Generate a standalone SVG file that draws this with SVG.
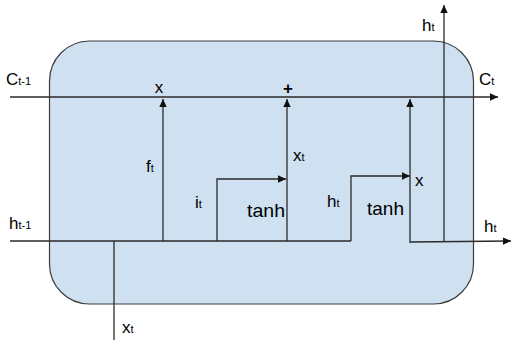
<svg xmlns="http://www.w3.org/2000/svg" width="512" height="342" viewBox="0 0 512 342">
<style>
.ln{fill:none;stroke:#2a2a2a;stroke-width:1.3}
.t{font-family:"Liberation Sans",Arial,sans-serif;fill:#000;font-size:17px}
.s{font-size:11px}
.tn{font-family:"Liberation Sans",Arial,sans-serif;fill:#000;font-size:19px}
</style>
<defs>
<marker id="ah" markerWidth="9" markerHeight="9" refX="8" refY="4.5" orient="auto" markerUnits="userSpaceOnUse">
<path d="M0,0.8 L8,4.5 L0,8.2 Z" fill="#111"/>
</marker>
</defs>
<g id="cell">
<rect x="49.5" y="41" width="424" height="263" rx="40" ry="40" fill="#cfe0f1" stroke="#3c3c3c" stroke-width="1.2"/>
</g>
<g id="connectors">
<line class="ln" x1="10" y1="97" x2="498" y2="97" marker-end="url(#ah)"/>
<line class="ln" x1="10" y1="241" x2="351" y2="241"/>
<line class="ln" x1="163" y1="241" x2="163" y2="99" marker-end="url(#ah)"/>
<polyline class="ln" points="217,241 217,179 286,179" marker-end="url(#ah)"/>
<line class="ln" x1="287" y1="241" x2="287" y2="99" marker-end="url(#ah)"/>
<polyline class="ln" points="351,241 351,176 410,176" marker-end="url(#ah)"/>
<line class="ln" x1="410" y1="243" x2="410" y2="99" marker-end="url(#ah)"/>
<line class="ln" x1="410" y1="242" x2="511" y2="241" marker-end="url(#ah)"/>
<line class="ln" x1="444" y1="242" x2="444" y2="5" marker-end="url(#ah)"/>
<line class="ln" x1="114" y1="241" x2="114" y2="340"/>
</g>
<g id="labels">
<text class="t" x="6" y="85">C<tspan class="s">t-1</tspan></text>
<text class="t" x="159" y="93" text-anchor="middle">x</text>
<text class="t" x="288" y="94" text-anchor="middle" font-weight="bold">+</text>
<text class="t" x="479" y="85">C<tspan class="s">t</tspan></text>
<text class="t" x="422" y="31">h<tspan class="s">t</tspan></text>
<text class="t" x="146" y="172">f<tspan class="s">t</tspan></text>
<text class="t" x="195" y="208">i<tspan class="s">t</tspan></text>
<text class="tn" x="247" y="217" textLength="38" lengthAdjust="spacingAndGlyphs">tanh</text>
<text class="t" x="293" y="161">x<tspan class="s">t</tspan></text>
<text class="t" x="327" y="207">h<tspan class="s">t</tspan></text>
<text class="tn" x="367" y="215" textLength="37" lengthAdjust="spacingAndGlyphs">tanh</text>
<text class="t" x="415" y="186">x</text>
<text class="t" x="484" y="232">h<tspan class="s">t</tspan></text>
<text class="t" x="9" y="229">h<tspan class="s">t-1</tspan></text>
<text class="t" x="122" y="333">x<tspan class="s">t</tspan></text>
</g>
</svg>
